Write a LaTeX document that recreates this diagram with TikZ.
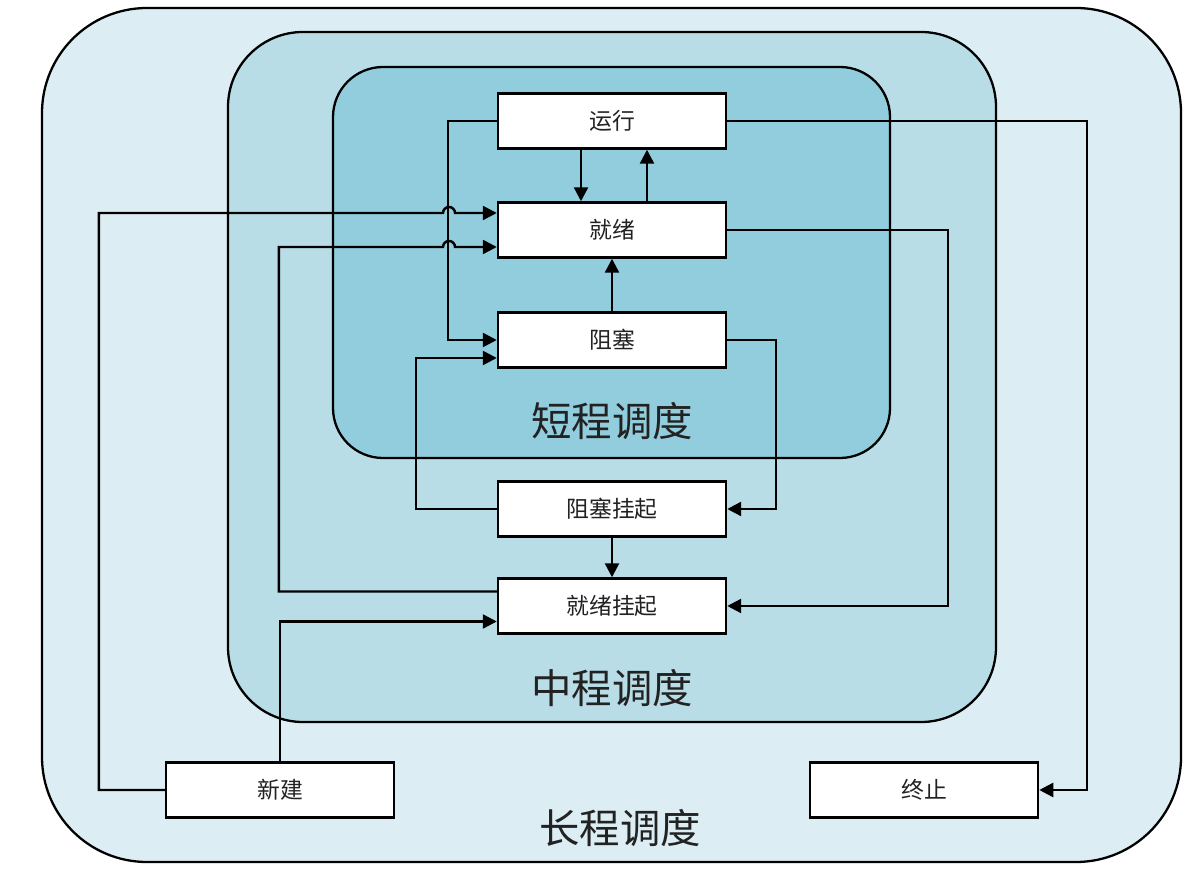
\documentclass[tikz,border=0pt]{standalone}
\usepackage{fontspec}
\setmainfont{Noto Sans CJK SC}
\usetikzlibrary{arrows.meta}
\definecolor{outerfill}{HTML}{DCEEF4}
\definecolor{midfill}{HTML}{B8DDE7}
\definecolor{innerfill}{HTML}{92CDDD}
\definecolor{inktext}{HTML}{222222}
\begin{document}
\begin{tikzpicture}[
  box/.style={draw=black,fill=white,line width=1.4pt,minimum width=4.56cm,minimum height=1.1cm,
    inner sep=0pt,text=inktext,font=\fontsize{13}{15}\selectfont},
  flow/.style={line width=1.4pt,-{Triangle[length=0.28cm,width=0.28cm]}},
  level/.style={text=inktext,font=\fontsize{23}{27}\selectfont}]
\useasboundingbox (0,0) rectangle (24,17.58);

% scheduling levels
\filldraw[fill=outerfill,draw=black,line width=1.3pt,rounded corners=2.1cm] (0.84,0.34) rectangle (23.62,17.42);
\filldraw[fill=midfill,draw=black,line width=1.3pt,rounded corners=1.5cm] (4.56,3.14) rectangle (19.92,16.94);
\filldraw[fill=innerfill,draw=black,line width=1.3pt,rounded corners=1.0cm] (6.66,8.42) rectangle (17.80,16.24);

\node[level] (short) at (12.24,9.16) {短程调度};
\node[level] (medium) at (12.24,3.82) {中程调度};
\node[level] (long) at (12.40,1.02) {长程调度};

% states
\node[box] (yunxing) at (12.24,15.16) {运行};
\node[box] (jiuxu) at (12.24,12.98) {就绪};
\node[box] (zuse) at (12.24,10.78) {阻塞};
\node[box] (zusegq) at (12.24,7.40) {阻塞挂起};
\node[box] (jiuxugq) at (12.24,5.46) {就绪挂起};
\node[box] (xinjian) at (5.60,1.78) {新建};
\node[box] (zhongzhi) at (18.48,1.78) {终止};

% transitions
\draw[flow] ([xshift=-0.62cm]yunxing.south) -- ([xshift=-0.62cm]jiuxu.north);
\draw[flow] ([xshift=0.70cm]jiuxu.north) -- ([xshift=0.70cm]yunxing.south);
\draw[flow] (zuse.north) -- (jiuxu.south);
\draw[flow] (zusegq.south) -- (jiuxugq.north);

\draw[flow] (yunxing.west) -- ++(-0.98,0) |- (zuse.west);
\draw[flow] (xinjian.west) -- ++(-1.32,0) |- (8.86,13.32)
  arc[start angle=180,end angle=0,radius=0.12] -- ([yshift=0.34cm]jiuxu.west);
\draw[flow] ([yshift=0.29cm]jiuxugq.west) -- ++(-4.36,0) |- (8.86,12.64)
  arc[start angle=180,end angle=0,radius=0.12] -- ([yshift=-0.34cm]jiuxu.west);
\draw[flow] (xinjian.north) |- ([yshift=-0.31cm]jiuxugq.west);
\draw[flow] (jiuxu.east) -- ++(4.42,0) |- (jiuxugq.east);
\draw[flow] (yunxing.east) -- ++(7.20,0) |- (zhongzhi.east);
\draw[flow] (zuse.east) -- ++(0.98,0) |- (zusegq.east);
\draw[flow] (zusegq.west) -- ++(-1.62,0) |- ([yshift=-0.36cm]zuse.west);
\end{tikzpicture}
\end{document}
